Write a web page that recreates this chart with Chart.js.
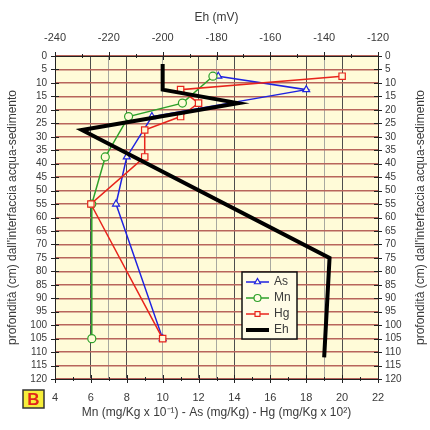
<!DOCTYPE html>
<html>
<head>
<meta charset="utf-8">
<script src="https://cdn.jsdelivr.net/npm/chart.js@4.4.1/dist/chart.umd.min.js"></script>
<style>
  html, body { margin: 0; padding: 0; background: #ffffff; }
  #chart { display: block; }
</style>
</head>
<body>
<canvas id="chart" width="430" height="430"></canvas>
<script>
// profondità (cm) dei campioni per ogni serie
const depthAs = [7.5, 12.5, 22.5, 37.5, 55, 105];
const valuesAs = [13.1, 18, 9.4, 8, 7.4, 10];

const depthMn = [7.5, 17.5, 22.5, 37.5, 55, 105];
const valuesMn = [12.8, 11.1, 8.1, 6.8, 6.05, 6.05];

const depthHg = [7.5, 12.5, 17.5, 22.5, 27.5, 37.5, 55, 105];
const valuesHg = [20, 11, 12, 11, 9, 9, 6, 10];

const depthEh = [3, 12.5, 17.5, 27.5, 75, 112];
const valuesEh = [-200, -200, -172, -230, -138, -140];

const seriesLabels = ['As', 'Mn', 'Hg', 'Eh'];
const depthTitle = "profondità (cm) dall'interfaccia acqua-sedimento";
const bottomTitle = 'Mn (mg/Kg x 10\u207B\u00B9) - As (mg/Kg) - Hg (mg/Kg x 10\u00B2)';
const topTitle = 'Eh (mV)';
const panelLetter = 'B';

const FONT = "'Liberation Sans', Arial, sans-serif";
const TEXT = '#3a3a3a';
const PLOT_BG = '#fffbd8';

function toPoints(values, depths) {
    return values.map((v, i) => ({ x: v, y: depths[i] }));
}

// sfondo giallo dell'area del grafico
const backgroundPlugin = {
    id: 'plotBackground',
    beforeDraw(chart) {
        const a = chart.chartArea;
        const ctx = chart.ctx;
        ctx.save();
        ctx.fillStyle = PLOT_BG;
        ctx.fillRect(a.left, a.top, a.right - a.left, a.bottom - a.top);
        ctx.restore();
    }
};

// tacche a croce sugli assi, titolo destro, legenda e lettera del pannello
const decorPlugin = {
    id: 'decor',
    afterDraw(chart) {
        const ctx = chart.ctx;
        const a = chart.chartArea;
        const s = chart.scales;
        ctx.save();
        ctx.strokeStyle = '#222';
        ctx.lineWidth = 1;
        ctx.beginPath();
        s.y.ticks.forEach(t => {
            const py = Math.round(s.y.getPixelForValue(t.value)) + 0.5;
            ctx.moveTo(a.left - 4, py); ctx.lineTo(a.left + 4, py);
            ctx.moveTo(a.right - 4, py); ctx.lineTo(a.right + 4, py);
        });
        for (let v = 4; v <= 22; v += 1) {
            const px = Math.round(s.x.getPixelForValue(v)) + 0.5;
            const len = v % 2 === 0 ? 4 : 2;
            ctx.moveTo(px, a.bottom - len); ctx.lineTo(px, a.bottom + len);
        }
        for (let v = -240; v <= -120; v += 10) {
            const px = Math.round(s.x2.getPixelForValue(v)) + 0.5;
            const len = v % 20 === 0 ? 4 : 2;
            ctx.moveTo(px, a.top - len); ctx.lineTo(px, a.top + len);
        }
        ctx.stroke();

        // titolo asse destro (letto dal basso verso l'alto, come quello sinistro)
        ctx.fillStyle = TEXT;
        ctx.font = '12px ' + FONT;
        ctx.textAlign = 'center';
        ctx.textBaseline = 'middle';
        ctx.translate(421, (a.top + a.bottom) / 2);
        ctx.rotate(-Math.PI / 2);
        ctx.fillText(depthTitle, 0, 0);
        ctx.setTransform(1, 0, 0, 1, 0, 0);

        // legenda
        const lx = 242, ly = 272, lw = 55, lh = 67;
        ctx.fillStyle = '#fffce6';
        ctx.fillRect(lx, ly, lw, lh);
        ctx.strokeStyle = '#111';
        ctx.lineWidth = 1.5;
        ctx.strokeRect(lx, ly, lw, lh);
        ctx.font = '12px ' + FONT;
        ctx.textAlign = 'left';
        seriesLabels.forEach((label, i) => {
            const ds = chart.data.datasets.find(d => d.label === label);
            const yy = ly + 10 + i * 16;
            ctx.strokeStyle = ds.borderColor;
            ctx.lineWidth = label === 'Eh' ? 4 : 1.5;
            ctx.beginPath();
            ctx.moveTo(lx + 4, yy); ctx.lineTo(lx + 27, yy);
            ctx.stroke();
            if (ds.pointRadius > 0) {
                ctx.fillStyle = '#fffce6';
                ctx.strokeStyle = ds.borderColor;
                ctx.lineWidth = 1.2;
                Chart.helpers.drawPoint(ctx, {
                    pointStyle: ds.pointStyle, radius: 3.5, rotation: 0,
                    borderWidth: 1.2
                }, lx + 15.5, yy);
            }
            ctx.fillStyle = TEXT;
            ctx.fillText(label, lx + 32, yy);
        });

        // lettera del pannello
        ctx.fillStyle = '#f6ee3a';
        ctx.fillRect(23, 390, 21, 18);
        ctx.strokeStyle = '#333';
        ctx.lineWidth = 1.5;
        ctx.strokeRect(23, 390, 21, 18);
        ctx.fillStyle = '#e0261c';
        ctx.font = 'bold 17px ' + FONT;
        ctx.textAlign = 'center';
        ctx.fillText(panelLetter, 33.5, 400);
        ctx.restore();
    }
};

const tickFont = { family: FONT, size: 11 };
const depthTickFont = { family: FONT, size: 10 };
const titleFont = { family: FONT, size: 12 };

new Chart(document.getElementById('chart'), {
    type: 'scatter',
    data: {
        datasets: [
            {
                label: 'Eh',
                data: toPoints(valuesEh, depthEh),
                xAxisID: 'x2', yAxisID: 'y',
                showLine: true,
                borderColor: '#000000',
                borderWidth: 4,
                pointRadius: 0,
                order: 0
            },
            {
                label: 'As',
                data: toPoints(valuesAs, depthAs),
                xAxisID: 'x', yAxisID: 'y',
                showLine: true,
                borderColor: '#1f22e0',
                borderWidth: 1.5,
                pointStyle: 'triangle',
                pointRadius: 4,
                pointBorderWidth: 1.2,
                pointBackgroundColor: PLOT_BG,
                order: 3
            },
            {
                label: 'Mn',
                data: toPoints(valuesMn, depthMn),
                xAxisID: 'x', yAxisID: 'y',
                showLine: true,
                borderColor: '#2ea12a',
                borderWidth: 1.5,
                pointStyle: 'circle',
                pointRadius: 4,
                pointBorderWidth: 1.2,
                pointBackgroundColor: PLOT_BG,
                order: 2
            },
            {
                label: 'Hg',
                data: toPoints(valuesHg, depthHg),
                xAxisID: 'x', yAxisID: 'y',
                showLine: true,
                borderColor: '#e8241c',
                borderWidth: 1.5,
                pointStyle: 'rect',
                pointRadius: 4.5,
                pointBorderWidth: 1.2,
                pointBackgroundColor: PLOT_BG,
                order: 1
            }
        ]
    },
    options: {
        responsive: false,
        animation: false,
        devicePixelRatio: 1,
        layout: { padding: 0 },
        plugins: {
            legend: { display: false },
            tooltip: { enabled: false }
        },
        scales: {
            x: {
                type: 'linear', position: 'bottom',
                min: 4, max: 22,
                ticks: { stepSize: 2, padding: 12, font: tickFont, color: TEXT, autoSkip: false },
                grid: { color: '#4d4d4d', lineWidth: 1, drawTicks: false },
                border: { color: '#222', width: 1 },
                title: { display: true, text: bottomTitle, font: titleFont, color: TEXT, padding: { top: 0, bottom: 10 } },
                afterFit(scale) { scale.height = 51; }
            },
            x2: {
                type: 'linear', position: 'top',
                min: -240, max: -120,
                ticks: { stepSize: 20, padding: 11, font: tickFont, color: TEXT, autoSkip: false },
                grid: { color: '#a8a8a0', lineWidth: 1, drawTicks: false },
                border: { color: '#222', width: 1 },
                title: { display: true, text: topTitle, font: titleFont, color: TEXT, padding: { top: 10, bottom: 0 } },
                afterFit(scale) { scale.height = 56; }
            },
            y: {
                type: 'linear', position: 'left',
                reverse: true,
                min: 0, max: 120,
                ticks: { stepSize: 5, padding: 8, font: depthTickFont, color: TEXT, autoSkip: false },
                grid: { color: '#b8655b', lineWidth: 1.5, drawTicks: false },
                border: { color: '#222', width: 1 },
                title: { display: true, text: depthTitle, font: titleFont, color: TEXT, padding: { top: 5, bottom: 0 } },
                afterFit(scale) { scale.width = 55; }
            },
            y2: {
                type: 'linear', position: 'right',
                reverse: true,
                min: 0, max: 120,
                ticks: { stepSize: 5, padding: 7, font: depthTickFont, color: TEXT, autoSkip: false },
                grid: { display: false, drawTicks: false },
                border: { color: '#222', width: 1 },
                afterFit(scale) { scale.width = 52; }
            }
        }
    },
    plugins: [backgroundPlugin, decorPlugin]
});
</script>
</body>
</html>
